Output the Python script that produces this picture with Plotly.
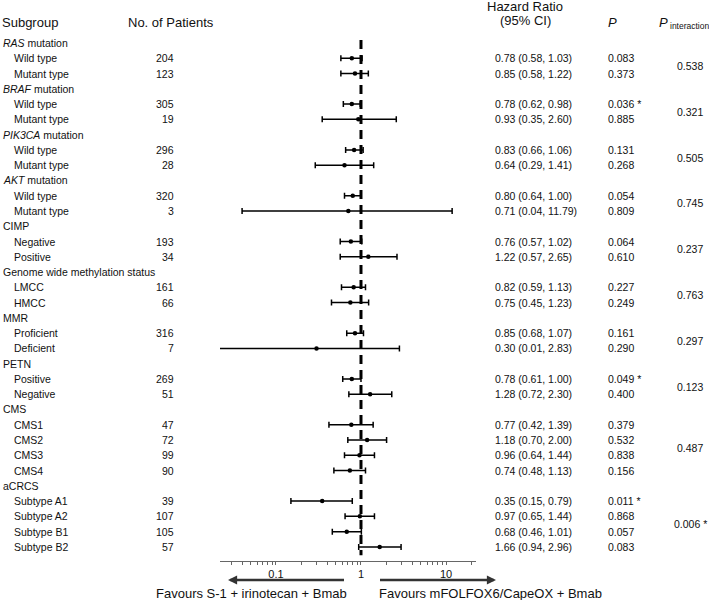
import numpy as np
import plotly.graph_objects as go

# subgroup data
group_names = ["<i>RAS</i> mutation", "<i>BRAF</i> mutation", "<i>PIK3CA</i> mutation",
               "<i>AKT</i> mutation", "CIMP", "Genome wide methylation status",
               "MMR", "PETN", "CMS", "aCRCS"]
subgroups = [["Wild type", "Mutant type"], ["Wild type", "Mutant type"],
             ["Wild type", "Mutant type"], ["Wild type", "Mutant type"],
             ["Negative", "Positive"], ["LMCC", "HMCC"],
             ["Proficient", "Deficient"], ["Positive", "Negative"],
             ["CMS1", "CMS2", "CMS3", "CMS4"],
             ["Subtype A1", "Subtype A2", "Subtype B1", "Subtype B2"]]
n_patients = [[204, 123], [305, 19], [296, 28], [320, 3], [193, 34], [161, 66],
              [316, 7], [269, 51], [47, 72, 99, 90], [39, 107, 105, 57]]
hr = [[0.78, 0.85], [0.78, 0.93], [0.83, 0.64], [0.80, 0.71], [0.76, 1.22],
      [0.82, 0.75], [0.85, 0.30], [0.78, 1.28], [0.77, 1.18, 0.96, 0.74],
      [0.35, 0.97, 0.68, 1.66]]
ci_low = [[0.58, 0.58], [0.62, 0.35], [0.66, 0.29], [0.64, 0.04], [0.57, 0.57],
          [0.59, 0.45], [0.68, 0.01], [0.61, 0.72], [0.42, 0.70, 0.64, 0.48],
          [0.15, 0.65, 0.46, 0.94]]
ci_high = [[1.03, 1.22], [0.98, 2.60], [1.06, 1.41], [1.00, 11.79], [1.02, 2.65],
           [1.13, 1.23], [1.07, 2.83], [1.00, 2.30], [1.39, 2.00, 1.44, 1.13],
           [0.79, 1.44, 1.01, 2.96]]
p_values = [["0.083", "0.373"], ["0.036 *", "0.885"], ["0.131", "0.268"],
            ["0.054", "0.809"], ["0.064", "0.610"], ["0.227", "0.249"],
            ["0.161", "0.290"], ["0.049 *", "0.400"],
            ["0.379", "0.532", "0.838", "0.156"],
            ["0.011 *", "0.868", "0.057", "0.083"]]
p_interaction = ["0.538", "0.321", "0.505", "0.745", "0.237", "0.763",
                 "0.297", "0.123", "0.487", "0.006 *"]
tick_labels = {0.1: "0.1", 1: "1", 10: "10"}

W, H = 709, 600
FONT = "Liberation Sans, Arial, Helvetica, sans-serif"
BODY = 10.5
ROW_H = 15.27        # px per row
AXIS_Y = 561         # px from top of x axis line
TOP_ROW = -2.816     # row value at the top edge

def px(x):
    return x / W

# flatten into rows
rows_y, rows_hr, rows_lo, rows_hi = [], [], [], []
annotations = []
r = 0
for g, name in enumerate(group_names):
    annotations.append(dict(x=px(1), y=r, text=name, xanchor="left"))
    r += 1
    first = r
    for k, sub in enumerate(subgroups[g]):
        annotations.append(dict(x=px(12), y=r, text=sub, xanchor="left"))
        annotations.append(dict(x=px(176), y=r, text=str(n_patients[g][k]), xanchor="right"))
        h, lo, hi = hr[g][k], ci_low[g][k], ci_high[g][k]
        annotations.append(dict(x=px(493), y=r, text=f"{h:.2f} ({lo:.2f}, {hi:.2f})",
                                xanchor="left"))
        annotations.append(dict(x=px(606), y=r, text=p_values[g][k], xanchor="left"))
        rows_y.append(r)
        rows_hr.append(h)
        rows_lo.append(lo)
        rows_hi.append(hi)
        r += 1
    annotations.append(dict(x=px(690), y=(first + r - 1) / 2, text=p_interaction[g],
                            xanchor="center"))
n_rows = r

for a in annotations:
    a.update(xref="paper", yref="y", yanchor="middle", showarrow=False,
             font=dict(family=FONT, size=BODY, color="#111"))

def header(x, y, text, anchor, size=13):
    return dict(x=px(x), y=y, xref="paper", yref="y", text=text, xanchor=anchor,
                yanchor="middle", showarrow=False,
                font=dict(family=FONT, size=size, color="#111"))

annotations += [
    header(0, -1.33, "Subgroup", "left"),
    header(126, -1.33, "No. of Patients", "left"),
    header(525, -2.42, "Hazard Ratio", "center"),
    header(525, -1.5, "(95% CI)", "center"),
    header(612, -1.33, "<i>P</i>", "center"),
    header(657, -1.33, "<i>P</i>", "left"),
    header(668, -1.1, "interaction", "left", size=8.5),
]

# favour labels and arrows under the axis
arrow_y = (H - 580) / H
annotations += [
    dict(x=px(228), y=arrow_y, xref="paper", yref="paper", ax=119, ay=0, text=" ",
         showarrow=True, arrowhead=2, arrowsize=0.7, arrowwidth=2.6, arrowcolor="#333"),
    dict(x=px(496), y=arrow_y, xref="paper", yref="paper", ax=-119, ay=0, text=" ",
         showarrow=True, arrowhead=2, arrowsize=0.7, arrowwidth=2.6, arrowcolor="#333"),
    dict(x=px(251), y=(H - 593) / H, xref="paper", yref="paper", showarrow=False,
         text="Favours S-1 + irinotecan + Bmab", xanchor="center", yanchor="middle",
         font=dict(family=FONT, size=13, color="#111")),
    dict(x=px(490), y=(H - 593) / H, xref="paper", yref="paper", showarrow=False,
         text="Favours mFOLFOX6/CapeOX + Bmab", xanchor="center", yanchor="middle",
         font=dict(family=FONT, size=13, color="#111")),
]

rows_hr = np.array(rows_hr)
fig = go.Figure()

# reference line at HR = 1
fig.add_trace(go.Scatter(x=[1, 1], y=[-0.2, n_rows - 0.45], mode="lines",
                         line=dict(color="black", width=3, dash="9px,6px"),
                         hoverinfo="skip"))

fig.add_trace(go.Scatter(
    x=rows_hr, y=rows_y, mode="markers",
    marker=dict(size=4.5, color="black"),
    error_x=dict(type="data", symmetric=False,
                 array=np.array(rows_hi) - rows_hr,
                 arrayminus=rows_hr - np.array(rows_lo),
                 color="black", thickness=1.5, width=3),
))

minor = [m * 10.0 ** e for e in range(-2, 2) for m in range(1, 10)]
minor = [v for v in minor if 0.02 <= v <= 20]
ticktext = [tick_labels.get(round(v, 6), "") for v in minor]

y_span = AXIS_Y / ROW_H
fig.update_layout(
    width=W, height=H, autosize=False,
    margin=dict(l=0, r=0, t=0, b=0),
    paper_bgcolor="white", plot_bgcolor="white",
    showlegend=False,
    font=dict(family=FONT, size=BODY, color="#111"),
    xaxis=dict(type="log", domain=[px(220), px(476)],
               range=[np.log10(0.022), np.log10(22.5)],
               showgrid=False, zeroline=False,
               showline=True, linecolor="#666", linewidth=1,
               ticks="outside", ticklen=3, tickcolor="#666", tickwidth=1,
               tickvals=minor, ticktext=ticktext,
               tickfont=dict(family=FONT, size=11, color="#111")),
    yaxis=dict(domain=[(H - AXIS_Y) / H, 1],
               range=[TOP_ROW + y_span, TOP_ROW],
               visible=False, showgrid=False, zeroline=False),
    annotations=annotations,
)

# drop the default page margin so the figure sits at the window corner
fig.write_html("out.html", config={"displayModeBar": False},
               post_script="document.body.style.margin='0px';")
